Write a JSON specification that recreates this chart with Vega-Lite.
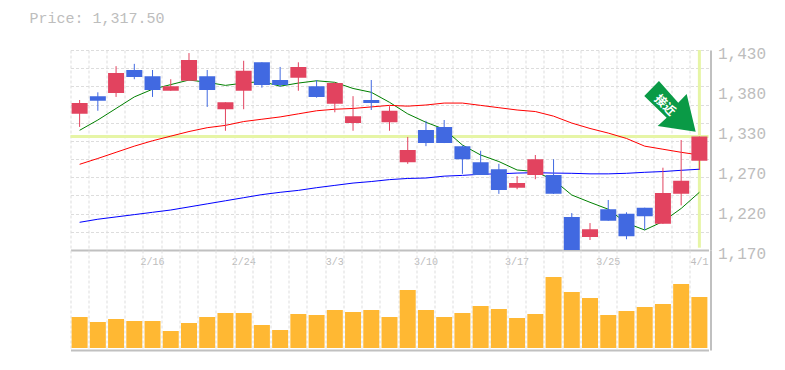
{"$schema":"https://vega.github.io/schema/vega-lite/v6.json","autosize":{"type":"pad"},"padding":{"left":29.5,"top":11,"right":10,"bottom":5},"background":"#ffffff","bounds":"flush","spacing":0,
"config":{"view":{"stroke":null},"axis":{"gridColor":"#dddddd","gridDash":[3,2],"gridWidth":1,"domainColor":"#c0c0c0","domainWidth":2,"ticks":false,"title":null,"labelFont":"Liberation Mono","labelColor":"#bdbdbd"}},
"datasets":{"rows":[
{"date":"2/9","dir":"up","open":1347,"close":1361,"high":1365,"low":1330,"volume":310,"ma_short":1325.6,"ma_mid":1281.4,"ma_long":1206},
{"date":"2/10","dir":"down","open":1370,"close":1364,"high":1375,"low":1351,"volume":260,"ma_short":1339,"ma_mid":1289,"ma_long":1210},
{"date":"2/12","dir":"up","open":1374,"close":1400,"high":1409,"low":1369,"volume":290,"ma_short":1354,"ma_mid":1297,"ma_long":1213},
{"date":"2/13","dir":"down","open":1404,"close":1395,"high":1412,"low":1392,"volume":270,"ma_short":1369,"ma_mid":1305,"ma_long":1216},
{"date":"2/16","dir":"down","open":1396,"close":1378,"high":1404,"low":1369,"volume":270,"ma_short":1379,"ma_mid":1312,"ma_long":1219},
{"date":"2/17","dir":"up","open":1377,"close":1383,"high":1392,"low":1377,"volume":170,"ma_short":1385,"ma_mid":1318,"ma_long":1222},
{"date":"2/18","dir":"up","open":1390,"close":1417,"high":1426,"low":1390,"volume":250,"ma_short":1391,"ma_mid":1324,"ma_long":1226},
{"date":"2/19","dir":"down","open":1396,"close":1378,"high":1404,"low":1356,"volume":310,"ma_short":1388,"ma_mid":1329,"ma_long":1230},
{"date":"2/20","dir":"up","open":1353,"close":1362,"high":1362,"low":1325,"volume":350,"ma_short":1384,"ma_mid":1332,"ma_long":1234},
{"date":"2/24","dir":"up","open":1377,"close":1403,"high":1416,"low":1353,"volume":350,"ma_short":1387,"ma_mid":1337,"ma_long":1238},
{"date":"2/25","dir":"down","open":1414,"close":1384.5,"high":1414,"low":1381,"volume":230,"ma_short":1389,"ma_mid":1340,"ma_long":1242},
{"date":"2/26","dir":"down","open":1391,"close":1384.5,"high":1408,"low":1382,"volume":180,"ma_short":1383,"ma_mid":1343,"ma_long":1245},
{"date":"2/27","dir":"up","open":1394,"close":1408,"high":1414,"low":1377,"volume":340,"ma_short":1387,"ma_mid":1347,"ma_long":1247.5},
{"date":"3/2","dir":"down","open":1383,"close":1369,"high":1391,"low":1368,"volume":330,"ma_short":1390,"ma_mid":1351,"ma_long":1251},
{"date":"3/3","dir":"up","open":1360,"close":1387,"high":1388,"low":1349,"volume":380,"ma_short":1388,"ma_mid":1353,"ma_long":1254},
{"date":"3/4","dir":"up","open":1335,"close":1344,"high":1370,"low":1325,"volume":360,"ma_short":1380,"ma_mid":1354,"ma_long":1257},
{"date":"3/5","dir":"down","open":1365,"close":1361,"high":1391,"low":1352,"volume":380,"ma_short":1375,"ma_mid":1356,"ma_long":1259},
{"date":"3/6","dir":"up","open":1336,"close":1351,"high":1357,"low":1325,"volume":310,"ma_short":1362,"ma_mid":1358,"ma_long":1261.5},
{"date":"3/9","dir":"up","open":1284,"close":1300,"high":1317,"low":1282,"volume":580,"ma_short":1347,"ma_mid":1357,"ma_long":1263},
{"date":"3/10","dir":"down","open":1326,"close":1309,"high":1338,"low":1305,"volume":380,"ma_short":1336,"ma_mid":1358.5,"ma_long":1263.6},
{"date":"3/11","dir":"down","open":1330,"close":1309,"high":1339,"low":1309,"volume":310,"ma_short":1327,"ma_mid":1361,"ma_long":1266},
{"date":"3/12","dir":"down","open":1305,"close":1288,"high":1306,"low":1269,"volume":350,"ma_short":1306.5,"ma_mid":1361,"ma_long":1267},
{"date":"3/13","dir":"down","open":1284,"close":1267.5,"high":1299,"low":1267.5,"volume":420,"ma_short":1293.5,"ma_mid":1358,"ma_long":1268.5},
{"date":"3/16","dir":"down","open":1275,"close":1248,"high":1282,"low":1243,"volume":390,"ma_short":1285,"ma_mid":1355,"ma_long":1269},
{"date":"3/17","dir":"up","open":1251,"close":1257,"high":1266,"low":1249,"volume":300,"ma_short":1274,"ma_mid":1352,"ma_long":1270},
{"date":"3/18","dir":"up","open":1267.5,"close":1288,"high":1293.5,"low":1262,"volume":340,"ma_short":1272,"ma_mid":1350,"ma_long":1270.5},
{"date":"3/19","dir":"down","open":1267.5,"close":1243,"high":1288,"low":1243,"volume":710,"ma_short":1261,"ma_mid":1344,"ma_long":1270},
{"date":"3/23","dir":"down","open":1213,"close":1170,"high":1218,"low":1170,"volume":560,"ma_short":1241.5,"ma_mid":1335,"ma_long":1269.7},
{"date":"3/24","dir":"up","open":1187,"close":1197,"high":1205,"low":1183,"volume":500,"ma_short":1232,"ma_mid":1328,"ma_long":1269},
{"date":"3/25","dir":"down","open":1223,"close":1208,"high":1235,"low":1208,"volume":330,"ma_short":1223,"ma_mid":1322,"ma_long":1269},
{"date":"3/26","dir":"down","open":1217,"close":1188,"high":1219,"low":1184,"volume":370,"ma_short":1205,"ma_mid":1315,"ma_long":1269.7},
{"date":"3/27","dir":"down","open":1225,"close":1214,"high":1225,"low":1196,"volume":410,"ma_short":1196,"ma_mid":1305,"ma_long":1271},
{"date":"3/30","dir":"up","open":1204,"close":1244,"high":1277,"low":1204,"volume":440,"ma_short":1207,"ma_mid":1301,"ma_long":1272},
{"date":"3/31","dir":"up","open":1243,"close":1260,"high":1313,"low":1228,"volume":640,"ma_short":1224,"ma_mid":1297,"ma_long":1273.6},
{"date":"4/1","dir":"up","open":1286,"close":1317.5,"high":1317.5,"low":1274,"volume":510,"ma_short":1245,"ma_mid":1293.5,"ma_long":1275}
]},
"vconcat":[
{"width":640,"height":200,
"title":{"text":"Price: 1,317.50","anchor":"start","frame":"group","dx":-41,"offset":19,"font":"Liberation Mono","fontSize":15,"fontWeight":"normal","color":"#bdbdbd"},
"resolve":{"axis":{"y":"independent"}},
"data":{"name":"rows"},
"encoding":{"x":{"field":"date","type":"nominal","sort":null,"scale":{"type":"band","paddingInner":0,"paddingOuter":0,"range":[0,638],"domain":["2/9","2/10","2/12","2/13","2/16","2/17","2/18","2/19","2/20","2/24","2/25","2/26","2/27","3/2","3/3","3/4","3/5","3/6","3/9","3/10","3/11","3/12","3/13","3/16","3/17","3/18","3/19","3/23","3/24","3/25","3/26","3/27","3/30","3/31","4/1"]},"axis":{"orient":"bottom","values":["2/9","2/10","2/12","2/13","2/16","2/17","2/18","2/19","2/20","2/24","2/25","2/26","2/27","3/2","3/3","3/4","3/5","3/6","3/9","3/10","3/11","3/12","3/13","3/16","3/17","3/18","3/19","3/23","3/24","3/25","3/26","3/27","3/30","3/31","4/1"],"bandPosition":0,"grid":true,"labelAngle":0,"labelFontSize":10,"labelOffset":0,"labelPadding":6,"labelBound":false,"labelOverlap":false,"labelExpr":"indexof(['2/16','2/24','3/3','3/10','3/17','3/25','4/1'],datum.value)>=0?datum.value:''"}}},
"layer":[
{"mark":{"type":"rule","color":"#e6f5a6","strokeWidth":3},"data":{"values":[{"level":1317.5}]},"encoding":{"x":{"value":0},"x2":{"value":638},"y":{"field":"level","type":"quantitative","scale":{"domain":[1170,1430],"nice":false,"zero":false},
"axis":{"orient":"left","values":[1430,1406.36,1382.73,1359.09,1335.45,1311.82,1288.18,1264.55,1240.91,1217.27,1193.64,1170],"grid":true,"labels":false,"domain":false}}}},
{"mark":{"type":"rule","color":"#e6f5a6","strokeWidth":3},"data":{"values":[{"date":"4/1","top":1430,"bottom":1173}]},"encoding":{"y":{"field":"top","type":"quantitative","axis":{"orient":"right","values":[1430,1378,1326,1274,1222,1170],"grid":false,"labelFontSize":16,"labelOffset":3,"labelPadding":7,"labelBound":false,"labelExpr":"format(round(datum.value/10)*10,',')"}},"y2":{"field":"bottom"}}},
{"mark":{"type":"line","color":"#008000","strokeWidth":1},"encoding":{"y":{"field":"ma_short","type":"quantitative","axis":null}}},
{"mark":{"type":"line","color":"#ff0000","strokeWidth":1},"encoding":{"y":{"field":"ma_mid","type":"quantitative","axis":null}}},
{"mark":{"type":"line","color":"#0000ff","strokeWidth":1},"encoding":{"y":{"field":"ma_long","type":"quantitative","axis":null}}},
{"mark":{"type":"rule","strokeWidth":1},"encoding":{"y":{"field":"high","type":"quantitative","axis":null},"y2":{"field":"low"},"color":{"field":"dir","type":"nominal","legend":null,"scale":{"domain":["up","down"],"range":["#e2435f","#4169e1"]}}}},
{"mark":{"type":"bar","size":16,"clip":true},"encoding":{"y":{"field":"open","type":"quantitative","axis":null},"y2":{"field":"close"},"color":{"field":"dir","type":"nominal","legend":null}}},
{"mark":{"type":"point","filled":true,"opacity":1,"strokeWidth":0,"color":"#0a9a46","shape":"M-22.2,-25 L-36.9,-10 L-14.5,11.7 L-23.5,20 L14.5,25.7 L5.5,-12 L-2.9,-3.3 Z","size":4},"data":{"values":[{"date":"3/31","price":1357.2}]},"encoding":{"y":{"field":"price","type":"quantitative","axis":null}}},
{"mark":{"type":"text","font":"Noto Sans CJK JP","fontWeight":"bold","fontSize":12,"angle":45,"color":"#ffffff","dx":3},"data":{"values":[{"date":"3/30","price":1361,"label":"接近"}]},"encoding":{"y":{"field":"price","type":"quantitative","axis":null},"text":{"field":"label"}}}
]},
{"width":640,"height":100,
"data":{"name":"rows"},
"mark":{"type":"bar","size":16,"color":"#ffb833"},
"encoding":{"x":{"field":"date","type":"nominal","sort":null,"scale":{"type":"band","paddingInner":0,"paddingOuter":0,"range":[0,638]},"axis":{"orient":"bottom","values":["2/9","2/10","2/12","2/13","2/16","2/17","2/18","2/19","2/20","2/24","2/25","2/26","2/27","3/2","3/3","3/4","3/5","3/6","3/9","3/10","3/11","3/12","3/13","3/16","3/17","3/18","3/19","3/23","3/24","3/25","3/26","3/27","3/30","3/31","4/1"],"bandPosition":0,"grid":true,"labels":false}},
"y":{"field":"volume","type":"quantitative","scale":{"domain":[-20,980],"nice":false,"zero":false},"axis":{"orient":"right","labels":false,"grid":false}}}}
]}
